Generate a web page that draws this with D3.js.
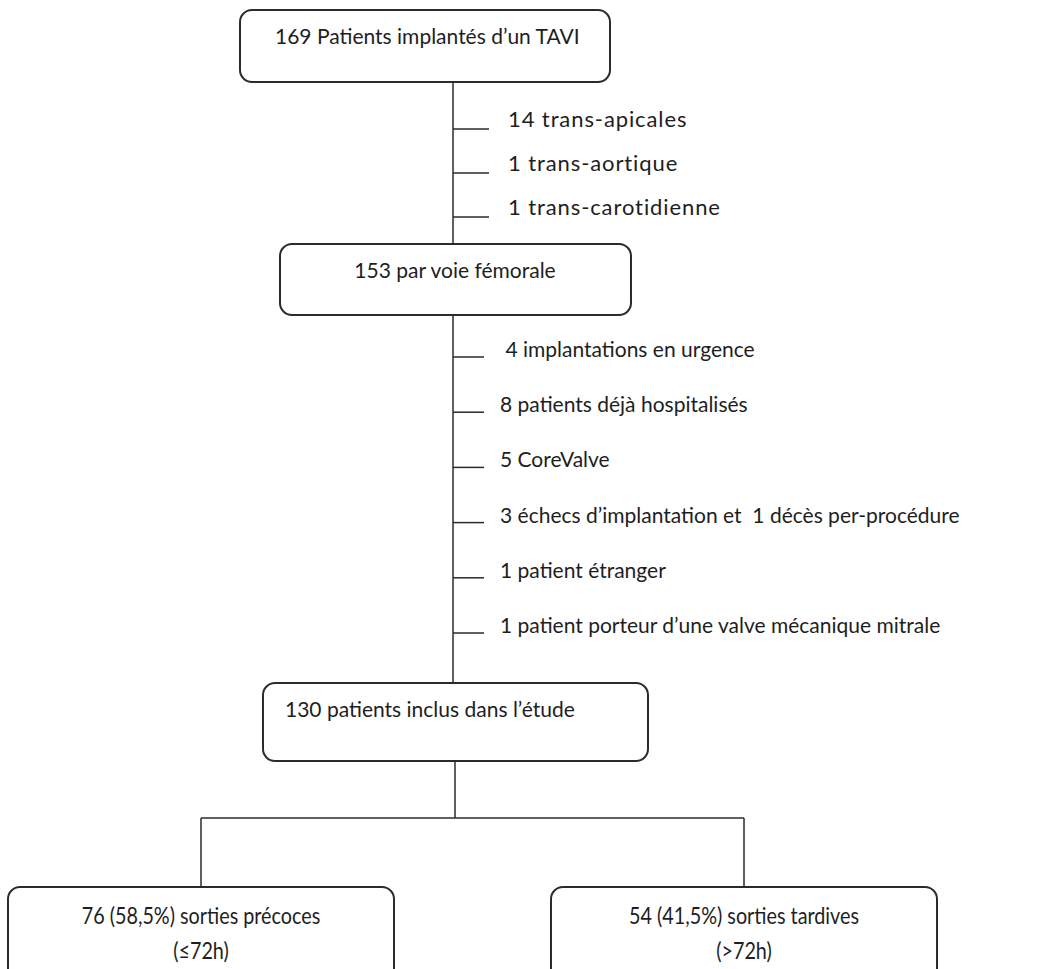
<!DOCTYPE html>
<html>
<head>
<meta charset="utf-8">
<script src="https://cdn.jsdelivr.net/npm/d3@7"></script>
<style>
  body { margin: 0; background: #fff; }
  text { font-family: Lato, "Open Sans", sans-serif; fill: #1e1e1e; }
</style>
</head>
<body>
<div id="chart"></div>
<script>
const width = 1039;
const height = 969;

// flow steps (main column)
const steps = ["169 Patients implantés d\u2019un TAVI", "153 par voie fémorale", "130 patients inclus dans l\u2019étude"];

// exclusions between steps
const exclusions1 = ["14 trans-apicales", "1 trans-aortique", "1 trans-carotidienne"];
const exclusions2 = [
    " 4 implantations en urgence",
    "8 patients déjà hospitalisés",
    "5 CoreValve",
    "3 échecs d\u2019implantation et  1 décès per-procédure",
    "1 patient étranger",
    "1 patient porteur d\u2019une valve mécanique mitrale"
];

// final split
const outcomes = ["76 (58,5%) sorties précoces", "54 (41,5%) sorties tardives"];
const outcomeNotes = ["(\u226472h)", "(>72h)"];

const svg = d3.select("#chart").append("svg")
    .attr("width", width)
    .attr("height", height);

const stroke = "#2b2b2b";

// boxes of the main column
const boxes = [
    {x0: 240, x1: 610, y0: 10, y1: 82, tx: 275, anchor: "start"},
    {x0: 280, x1: 631, y0: 244, y1: 315, tx: 455, anchor: "middle"},
    {x0: 263, x1: 648, y0: 683, y1: 761, tx: 285, anchor: "start"}
];
const spineX = 453;

// spine lines
const lines = svg.append("g").attr("stroke", stroke).attr("stroke-width", 1.5);
lines.append("line").attr("x1", spineX).attr("x2", spineX).attr("y1", boxes[0].y1).attr("y2", boxes[1].y0);
lines.append("line").attr("x1", spineX).attr("x2", spineX).attr("y1", boxes[1].y1).attr("y2", boxes[2].y0);

// exclusion ticks
const y1 = d3.scalePoint().domain(exclusions1).range([129, 217]);
const y2 = d3.scalePoint().domain(exclusions2).range([357, 633]);

function branch(list, y, tickLen, textX, size, shift, spacing) {
    const g = svg.append("g");
    g.selectAll("line")
        .data(list)
        .join("line")
        .attr("x1", spineX)
        .attr("x2", spineX + tickLen)
        .attr("y1", d => y(d))
        .attr("y2", d => y(d))
        .attr("stroke", stroke)
        .attr("stroke-width", 1.5);
    g.selectAll("text")
        .data(list)
        .join("text")
        .attr("x", textX)
        .attr("y", d => y(d) + shift)
        .attr("font-size", size)
        .attr("letter-spacing", spacing)
        .attr("xml:space", "preserve")
        .style("white-space", "pre")
        .text(d => d);
}
branch(exclusions1, y1, 36, 508, 22, -2, 0.9);
branch(exclusions2, y2, 31, 500, 21, 0, 0);

// split lines
const splitY = 818;
const outX = d3.scalePoint().domain(outcomes).range([201, 744]);
const outTop = 887;
lines.append("line").attr("x1", 455).attr("x2", 455).attr("y1", boxes[2].y1).attr("y2", splitY);
lines.append("line").attr("x1", outX(outcomes[0])).attr("x2", outX(outcomes[1])).attr("y1", splitY).attr("y2", splitY);
lines.selectAll(".drop")
    .data(outcomes)
    .join("line")
    .attr("class", "drop")
    .attr("x1", d => outX(d)).attr("x2", d => outX(d))
    .attr("y1", splitY).attr("y2", outTop);

// main boxes
svg.append("g").selectAll("rect")
    .data(boxes)
    .join("rect")
    .attr("x", d => d.x0)
    .attr("y", d => d.y0)
    .attr("width", d => d.x1 - d.x0)
    .attr("height", d => d.y1 - d.y0)
    .attr("rx", 12)
    .attr("fill", "#fff")
    .attr("stroke", stroke)
    .attr("stroke-width", 2);

svg.append("g").selectAll("text")
    .data(steps)
    .join("text")
    .attr("x", (d, i) => boxes[i].tx)
    .attr("y", (d, i) => boxes[i].y0 + 34)
    .attr("text-anchor", (d, i) => boxes[i].anchor)
    .attr("font-size", 21)
    .text(d => d);

// outcome boxes (text squeezed horizontally, like the condensed original)
const outW = 386;
const squeeze = 0.86;
const og = svg.append("g").selectAll("g")
    .data(outcomes)
    .join("g");
og.append("rect")
    .attr("x", d => outX(d) - outW / 2)
    .attr("y", outTop)
    .attr("width", outW)
    .attr("height", 100)
    .attr("rx", 12)
    .attr("fill", "#fff")
    .attr("stroke", stroke)
    .attr("stroke-width", 2);
og.append("text")
    .attr("transform", d => `translate(${outX(d)},${outTop + 37}) scale(${squeeze},1)`)
    .attr("text-anchor", "middle")
    .attr("font-size", 23)
    .text(d => d);
og.append("text")
    .attr("transform", d => `translate(${outX(d)},${outTop + 72}) scale(${squeeze},1)`)
    .attr("text-anchor", "middle")
    .attr("font-size", 23)
    .text((d, i) => outcomeNotes[i]);
</script>
</body>
</html>
